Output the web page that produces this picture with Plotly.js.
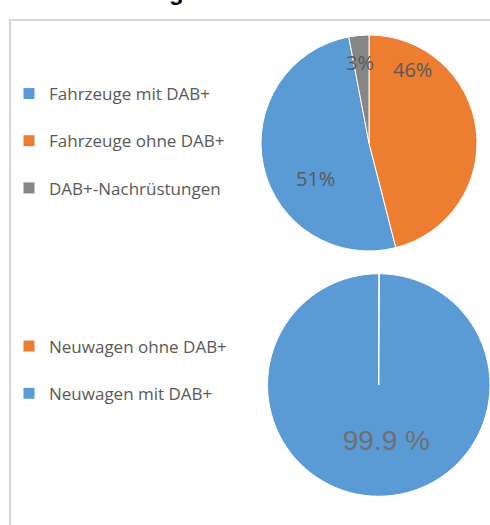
<!DOCTYPE html>
<html>
<head>
<meta charset="utf-8">
<script src="https://cdn.plot.ly/plotly-3.0.1.min.js"></script>
<style>html,body{margin:0;padding:0;background:#fff;}#chart{width:490px;height:525px;}</style>
</head>
<body>
<div id="chart"></div>
<script>
// ---- data ----
const titleText = "Fahrzeuge";
const fzLabels = ["Fahrzeuge mit DAB+", "Fahrzeuge ohne DAB+", "DAB+-Nachrüstungen"];
const fzValues = [51, 46, 3];
const nwLabels = ["Neuwagen ohne DAB+", "Neuwagen mit DAB+"];
const nwValues = [0.1, 99.9];

// ---- styles ----
const BLUE = "#5b9bd5", ORANGE = "#ed7d31", GREY = "#868686";
const W = 490, H = 525;
const px = x => x / W;
const py = y => 1 - y / H;

// data-label placement for the top pie (Excel "best fit" positions), in pixels
const fzLabelPos = [[315, 179], [412, 70], [360, 62]];

const fzTotal = fzValues.reduce((a, b) => a + b, 0);
const fzRotation = 360 * fzValues[1] / fzTotal;
const fzPercentText = fzValues.map(v => Math.round(100 * v / fzTotal) + "%");

const legendLabel = l => l + "<br> ";

const traces = [
  {
    type: "pie",
    labels: fzLabels.map(legendLabel),
    values: fzValues,
    sort: false,
    direction: "counterclockwise",
    rotation: fzRotation,
    marker: { colors: [BLUE, ORANGE, GREY], line: { color: "#ffffff", width: 1 } },
    textinfo: "none",
    hoverinfo: "none",
    domain: { x: [px(261), px(477)], y: [py(251), py(35)] },
    legend: "legend"
  },
  {
    type: "pie",
    labels: nwLabels.map(legendLabel),
    values: nwValues,
    sort: false,
    direction: "clockwise",
    rotation: 0,
    marker: { colors: [ORANGE, BLUE], line: { color: "#ffffff", width: 1 } },
    texttemplate: ["", "\u00a0\u00a0%{value:.1f} %"],
    textposition: "inside",
    insidetextorientation: "horizontal",
    textfont: { family: "Liberation Sans, Arial", size: 28, color: "#6f6f6f" },
    hoverinfo: "none",
    domain: { x: [px(267.5), 1], y: [py(496.5), py(273.5)] },
    legend: "legend2"
  }
];

const legendFont = { family: "Open Sans", size: 17, color: "#595959" };

const annotations = [{
  text: "<b>" + titleText + "</b>", showarrow: false,
  xref: "paper", yref: "paper", x: px(75), xanchor: "left",
  y: py(7), yanchor: "bottom",
  font: { family: "Liberation Sans, Arial", size: 24, color: "#000000" }
}];
fzPercentText.forEach((t, i) => {
  annotations.push({
    text: t, showarrow: false,
    xref: "paper", yref: "paper",
    x: px(fzLabelPos[i][0]), y: py(fzLabelPos[i][1]),
    xanchor: "center", yanchor: "middle",
    font: { family: "Open Sans", size: 20, color: "#595959" }
  });
});

const layout = {
  width: W, height: H,
  margin: { l: 0, r: 0, t: 0, b: 0 },
  paper_bgcolor: "#ffffff",
  showlegend: true,
  legend: {
    x: px(9), xanchor: "left", y: py(76), yanchor: "top",
    font: legendFont, valign: "top", bgcolor: "rgba(0,0,0,0)"
  },
  legend2: {
    x: px(9), xanchor: "left", y: py(328.5), yanchor: "top",
    font: legendFont, valign: "top", bgcolor: "rgba(0,0,0,0)"
  },
  shapes: [{
    type: "rect", xref: "paper", yref: "paper", layer: "below",
    x0: px(10), x1: 1.1, y0: -0.1, y1: py(20),
    line: { color: "#d6d6d6", width: 2 }, fillcolor: "rgba(0,0,0,0)"
  }],
  annotations: annotations
};

Plotly.newPlot("chart", traces, layout, { displayModeBar: false, staticPlot: true });
</script>
</body>
</html>
